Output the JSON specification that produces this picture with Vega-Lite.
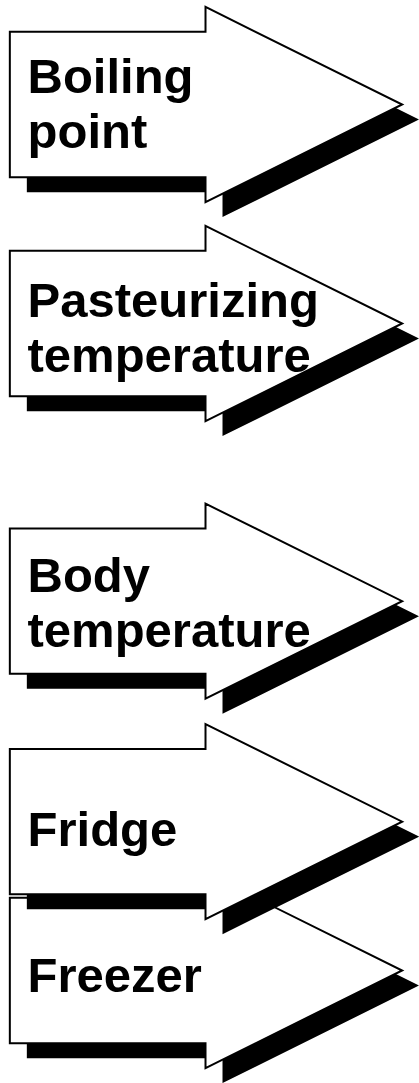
{
  "$schema": "https://vega.github.io/schema/vega-lite/v6.json",
  "width": 419,
  "height": 1083,
  "autosize": {"type": "fit", "contains": "padding"},
  "padding": 0,
  "background": "white",
  "config": {"view": {"stroke": null}},
  "datasets": {
    "arrows": [
      {"name": "Boiling point", "x": 10, "y": 32, "y2": 178},
      {"name": "Boiling point", "x": 209, "y": 32, "y2": 178},
      {"name": "Boiling point", "x": 209, "y": 7, "y2": 203},
      {"name": "Boiling point", "x": 409, "y": 105, "y2": 105},
      {"name": "Pasteurizing temperature", "x": 10, "y": 252, "y2": 398},
      {"name": "Pasteurizing temperature", "x": 209, "y": 252, "y2": 398},
      {"name": "Pasteurizing temperature", "x": 209, "y": 227, "y2": 423},
      {"name": "Pasteurizing temperature", "x": 409, "y": 325, "y2": 325},
      {"name": "Body temperature", "x": 10, "y": 531, "y2": 677},
      {"name": "Body temperature", "x": 209, "y": 531, "y2": 677},
      {"name": "Body temperature", "x": 209, "y": 506, "y2": 702},
      {"name": "Body temperature", "x": 409, "y": 604, "y2": 604},
      {"name": "Fridge", "x": 10, "y": 752.5, "y2": 898.5},
      {"name": "Fridge", "x": 209, "y": 752.5, "y2": 898.5},
      {"name": "Fridge", "x": 209, "y": 727.5, "y2": 923.5},
      {"name": "Fridge", "x": 409, "y": 825.5, "y2": 825.5},
      {"name": "Freezer", "x": 10, "y": 902, "y2": 1048},
      {"name": "Freezer", "x": 209, "y": 902, "y2": 1048},
      {"name": "Freezer", "x": 209, "y": 877, "y2": 1073},
      {"name": "Freezer", "x": 409, "y": 975, "y2": 975}
    ],
    "labels": [
      {"name": "Boiling point", "text": "Boiling\npoint", "x": 28, "y": 93},
      {"name": "Pasteurizing temperature", "text": "Pasteurizing\ntemperature", "x": 28, "y": 318},
      {"name": "Body temperature", "text": "Body\ntemperature", "x": 28, "y": 595},
      {"name": "Fridge", "text": "Fridge", "x": 28, "y": 850},
      {"name": "Freezer", "text": "Freezer", "x": 28, "y": 997}
    ]
  },
  "encoding": {
    "x": {"field": "x", "type": "quantitative", "scale": {"domain": [0, 419], "nice": false, "zero": false}, "axis": null},
    "y": {"field": "y", "type": "quantitative", "scale": {"domain": [0, 1083], "reverse": true, "nice": false, "zero": false}, "axis": null}
  },
  "layer": [
    {
      "data": {"name": "arrows"},
      "transform": [{"filter": "datum.name === 'Freezer'"}],
      "mark": {"type": "area", "orient": "vertical", "fill": "black", "xOffset": 17, "x2Offset": 17, "yOffset": 15, "y2Offset": 15},
      "encoding": {"y2": {"field": "y2"}, "detail": {"field": "name"}}
    },
    {
      "data": {"name": "arrows"},
      "transform": [{"filter": "datum.name === 'Freezer'"}],
      "mark": {"type": "area", "orient": "vertical", "fill": "white", "stroke": "black", "strokeWidth": 2, "strokeJoin": "miter"},
      "encoding": {"y2": {"field": "y2"}, "detail": {"field": "name"}}
    },
    {
      "data": {"name": "arrows"},
      "transform": [{"filter": "datum.name !== 'Freezer'"}],
      "mark": {"type": "area", "orient": "vertical", "fill": "black", "xOffset": 17, "x2Offset": 17, "yOffset": 15, "y2Offset": 15},
      "encoding": {"y2": {"field": "y2"}, "detail": {"field": "name"}}
    },
    {
      "data": {"name": "arrows"},
      "transform": [{"filter": "datum.name !== 'Freezer'"}],
      "mark": {"type": "area", "orient": "vertical", "fill": "white", "stroke": "black", "strokeWidth": 2, "strokeJoin": "miter"},
      "encoding": {"y2": {"field": "y2"}, "detail": {"field": "name"}}
    },
    {
      "data": {"name": "labels"},
      "mark": {"type": "text", "align": "left", "baseline": "alphabetic", "font": "Liberation Sans", "fontWeight": "bold", "fontSize": 49, "lineBreak": "\n", "lineHeight": 55, "color": "black"},
      "encoding": {"text": {"field": "text"}}
    }
  ]
}
